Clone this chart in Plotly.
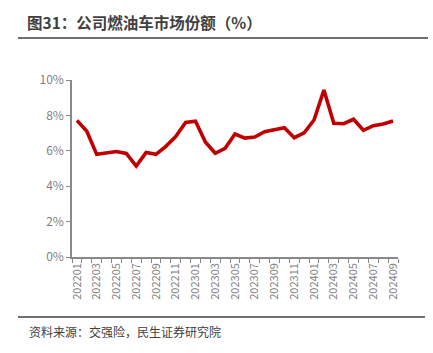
import plotly.graph_objects as go

months = ["202201","202202","202203","202204","202205","202206","202207","202208","202209","202210","202211","202212",
          "202301","202302","202303","202304","202305","202306","202307","202308","202309","202310","202311","202312",
          "202401","202402","202403","202404","202405","202406","202407","202408","202409"]
share = [7.72, 7.10, 5.80, 5.90, 5.96, 5.85, 5.14, 5.90, 5.80, 6.25, 6.80, 7.60,
         7.67, 6.50, 5.86, 6.14, 6.95, 6.72, 6.78, 7.08, 7.17, 7.30, 6.74, 7.02,
         7.74, 9.43, 7.55, 7.53, 7.78, 7.16, 7.42, 7.51, 7.68]
tick_text = [m if i % 2 == 0 else "" for i, m in enumerate(months)]
y_ticks = [0, 2, 4, 6, 8, 10]

W, H = 433, 353
L, R, T, B = 72, 398, 80, 257
pw, ph = R - L, B - T
def px(x): return (x - L) / pw
def py(y): return (B - y) / ph

FONT = "Noto Sans CJK SC"
fig = go.Figure()
fig.add_trace(go.Scatter(x=months, y=[v / 100 for v in share], mode="lines",
                         line=dict(color="#C00000", width=3.6), hoverinfo="skip"))

fig.update_layout(
    width=W, height=H,
    margin=dict(l=L, r=W - R, t=T, b=H - B),
    paper_bgcolor="white", plot_bgcolor="white",
    showlegend=False,
    font=dict(family=FONT, color="#7f7f7f"),
    title=dict(text="<b>图31：公司燃油车市场份额（%）</b>", xref="container", yref="container",
               x=27 / W, xanchor="left", y=1 - 23.5 / H, yanchor="middle",
               font=dict(family=FONT, size=15.5, color="#404040")),
    xaxis=dict(type="category", tickmode="array", tickvals=months, ticktext=tick_text,
               tickson="boundaries", ticks="outside", ticklen=4, tickcolor="#898989",
               tickangle=-90, tickfont=dict(size=11, color="#7f7f7f"),
               showline=True, linecolor="#898989", linewidth=1.5, showgrid=False,
               range=[-0.5, 32.5], zeroline=False),
    yaxis=dict(range=[0, 0.1], tickvals=[v / 100 for v in y_ticks], tickformat=".0%",
               ticks="outside", ticklen=4, tickcolor="#898989",
               tickfont=dict(size=12, color="#7f7f7f"),
               showline=True, linecolor="#898989", linewidth=1.5, showgrid=False, zeroline=False),
    shapes=[
        dict(type="line", xref="paper", yref="paper", x0=px(18), x1=px(428), y0=py(38), y1=py(38),
             line=dict(color="#6f6f6f", width=2)),
        dict(type="line", xref="paper", yref="paper", x0=px(18), x1=px(425), y0=py(317), y1=py(317),
             line=dict(color="#6f6f6f", width=2)),
    ],
    annotations=[
        dict(text="资料来源：交强险，民生证券研究院", xref="paper", yref="paper",
             x=px(27), y=py(331), xanchor="left", yanchor="middle", showarrow=False,
             font=dict(family=FONT, size=12, color="#404040")),
    ],
)

fig.write_html("out.html")
